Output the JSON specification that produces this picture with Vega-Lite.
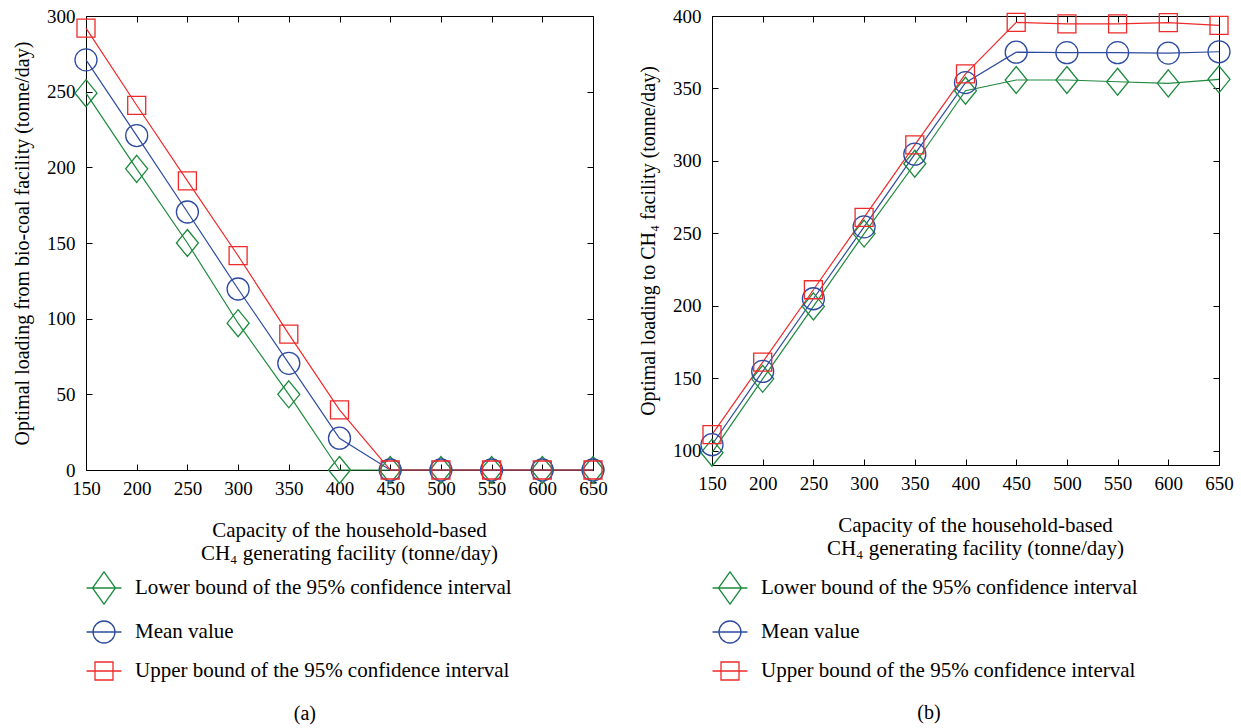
{
  "$schema": "https://vega.github.io/schema/vega-lite/v6.json",
  "background": "white",
  "padding": {"left": 12, "top": 6, "right": 0, "bottom": 0},
  "spacing": 30,
  "resolve": {"scale": {"color": "independent", "shape": "independent"}, "legend": {"color": "independent", "shape": "independent"}},
  "config": {
    "font": "Liberation Serif",
    "view": {"stroke": "black", "strokeWidth": 1},
    "axis": {
      "labelFont": "Liberation Serif", "labelFontSize": 19, "labelColor": "black",
      "titleFont": "Liberation Serif", "titleFontSize": 20, "titleFontWeight": "normal", "titleColor": "black",
      "domainColor": "black", "tickColor": "black", "tickSize": -6, "grid": false,
      "labelFlush": false, "labelOverlap": false
    },
    "legend": {
      "labelFont": "Liberation Serif", "labelFontSize": 21, "labelColor": "black", "labelLimit": 600,
      "padding": 0, "symbolStrokeWidth": 1.3, "symbolSize": 1296, "labelOffset": 12, "rowPadding": 6
    },
    "title": {"font": "Liberation Serif", "fontSize": 20, "fontWeight": "normal", "color": "black"}
  },
  "datasets": {
    "a": [
      {"cap": 150, "series": "Lower bound of the 95% confidence interval", "val": 249},
      {"cap": 200, "series": "Lower bound of the 95% confidence interval", "val": 199},
      {"cap": 250, "series": "Lower bound of the 95% confidence interval", "val": 150},
      {"cap": 300, "series": "Lower bound of the 95% confidence interval", "val": 97},
      {"cap": 350, "series": "Lower bound of the 95% confidence interval", "val": 50},
      {"cap": 400, "series": "Lower bound of the 95% confidence interval", "val": 0},
      {"cap": 450, "series": "Lower bound of the 95% confidence interval", "val": 0},
      {"cap": 500, "series": "Lower bound of the 95% confidence interval", "val": 0},
      {"cap": 550, "series": "Lower bound of the 95% confidence interval", "val": 0},
      {"cap": 600, "series": "Lower bound of the 95% confidence interval", "val": 0},
      {"cap": 650, "series": "Lower bound of the 95% confidence interval", "val": 0},
      {"cap": 150, "series": "Mean value", "val": 271},
      {"cap": 200, "series": "Mean value", "val": 221},
      {"cap": 250, "series": "Mean value", "val": 170.5},
      {"cap": 300, "series": "Mean value", "val": 119.6},
      {"cap": 350, "series": "Mean value", "val": 70.5},
      {"cap": 400, "series": "Mean value", "val": 21},
      {"cap": 450, "series": "Mean value", "val": 0},
      {"cap": 500, "series": "Mean value", "val": 0},
      {"cap": 550, "series": "Mean value", "val": 0},
      {"cap": 600, "series": "Mean value", "val": 0},
      {"cap": 650, "series": "Mean value", "val": 0},
      {"cap": 150, "series": "Upper bound of the 95% confidence interval", "val": 292},
      {"cap": 200, "series": "Upper bound of the 95% confidence interval", "val": 241},
      {"cap": 250, "series": "Upper bound of the 95% confidence interval", "val": 191},
      {"cap": 300, "series": "Upper bound of the 95% confidence interval", "val": 141.6},
      {"cap": 350, "series": "Upper bound of the 95% confidence interval", "val": 89.8},
      {"cap": 400, "series": "Upper bound of the 95% confidence interval", "val": 39.7},
      {"cap": 450, "series": "Upper bound of the 95% confidence interval", "val": 0},
      {"cap": 500, "series": "Upper bound of the 95% confidence interval", "val": 0},
      {"cap": 550, "series": "Upper bound of the 95% confidence interval", "val": 0},
      {"cap": 600, "series": "Upper bound of the 95% confidence interval", "val": 0},
      {"cap": 650, "series": "Upper bound of the 95% confidence interval", "val": 0}
    ],
    "b": [
      {"cap": 150, "series": "Lower bound of the 95% confidence interval", "val": 98.5},
      {"cap": 200, "series": "Lower bound of the 95% confidence interval", "val": 149.5},
      {"cap": 250, "series": "Lower bound of the 95% confidence interval", "val": 199.5},
      {"cap": 300, "series": "Lower bound of the 95% confidence interval", "val": 249.8},
      {"cap": 350, "series": "Lower bound of the 95% confidence interval", "val": 298},
      {"cap": 400, "series": "Lower bound of the 95% confidence interval", "val": 348.4},
      {"cap": 450, "series": "Lower bound of the 95% confidence interval", "val": 355.8},
      {"cap": 500, "series": "Lower bound of the 95% confidence interval", "val": 355.8},
      {"cap": 550, "series": "Lower bound of the 95% confidence interval", "val": 354.6},
      {"cap": 600, "series": "Lower bound of the 95% confidence interval", "val": 353.5},
      {"cap": 650, "series": "Lower bound of the 95% confidence interval", "val": 356.3},
      {"cap": 150, "series": "Mean value", "val": 104},
      {"cap": 200, "series": "Mean value", "val": 154.6},
      {"cap": 250, "series": "Mean value", "val": 204.8},
      {"cap": 300, "series": "Mean value", "val": 254.4},
      {"cap": 350, "series": "Mean value", "val": 304.6},
      {"cap": 400, "series": "Mean value", "val": 354},
      {"cap": 450, "series": "Mean value", "val": 375},
      {"cap": 500, "series": "Mean value", "val": 374.7},
      {"cap": 550, "series": "Mean value", "val": 374.7},
      {"cap": 600, "series": "Mean value", "val": 374.4},
      {"cap": 650, "series": "Mean value", "val": 375.3},
      {"cap": 150, "series": "Upper bound of the 95% confidence interval", "val": 111},
      {"cap": 200, "series": "Upper bound of the 95% confidence interval", "val": 161},
      {"cap": 250, "series": "Upper bound of the 95% confidence interval", "val": 211},
      {"cap": 300, "series": "Upper bound of the 95% confidence interval", "val": 261},
      {"cap": 350, "series": "Upper bound of the 95% confidence interval", "val": 311},
      {"cap": 400, "series": "Upper bound of the 95% confidence interval", "val": 360},
      {"cap": 450, "series": "Upper bound of the 95% confidence interval", "val": 395.6},
      {"cap": 500, "series": "Upper bound of the 95% confidence interval", "val": 394.5},
      {"cap": 550, "series": "Upper bound of the 95% confidence interval", "val": 394.5},
      {"cap": 600, "series": "Upper bound of the 95% confidence interval", "val": 395.4},
      {"cap": 650, "series": "Upper bound of the 95% confidence interval", "val": 393.5}
    ]
  },
  "hconcat": [
    {
      "width": 507, "height": 454,
      "data": {"name": "a"},
      "title": {"text": "(a)", "orient": "bottom", "anchor": "middle", "frame": "bounds", "offset": 21, "dx": -5},
      "resolve": {"axis": {"x": "independent", "y": "independent"}},
      "layer": [
        {
          "transform": [{"filter": "datum.series === 'Lower bound of the 95% confidence interval'"}],
          "mark": {"type": "line", "strokeWidth": 1.2, "clip": false, "color": "#1e8a3e"},
          "encoding": {
            "x": {"field": "cap", "type": "quantitative", "scale": {"domain": [150, 650], "nice": false, "zero": false},
              "axis": {"values": [150,200,250,300,350,400,450,500,550,600,650], "labelPadding": 15, "titlePadding": 21, "titleLineHeight": 23, "titleX": 263, "titleFontSize": 21,
                "title": ["Capacity of the household-based", "CH₄ generating facility (tonne/day)"]}},
            "y": {"field": "val", "type": "quantitative", "scale": {"domain": [0, 300], "nice": false, "zero": false},
              "axis": {"values": [0,50,100,150,200,250,300], "labelPadding": 17, "titlePadding": 14,
                "title": "Optimal loading from bio-coal facility (tonne/day)"}}
          }
        },
        {
          "transform": [{"filter": "datum.series === 'Mean value'"}],
          "mark": {"type": "line", "strokeWidth": 1.2, "clip": false, "color": "#2d4b9f"},
          "encoding": {
            "x": {"field": "cap", "type": "quantitative", "axis": null},
            "y": {"field": "val", "type": "quantitative", "axis": null}
          }
        },
        {
          "transform": [{"filter": "datum.series === 'Upper bound of the 95% confidence interval'"}],
          "mark": {"type": "line", "strokeWidth": 1.2, "clip": false, "color": "#ee2a2a"},
          "encoding": {
            "x": {"field": "cap", "type": "quantitative", "axis": null},
            "y": {"field": "val", "type": "quantitative", "axis": null}
          }
        },
        {
          "transform": [{"filter": "datum.series === 'Lower bound of the 95% confidence interval'"}],
          "mark": {"type": "point", "filled": false, "shape": "M0,-1L0.815,0L0,1L-0.815,0Z", "size": 729, "strokeWidth": 1.3, "color": "#1e8a3e", "opacity": 1},
          "encoding": {
            "x": {"field": "cap", "type": "quantitative", "axis": {"orient": "top", "labels": false, "domain": false, "title": null, "values": [150,200,250,300,350,400,450,500,550,600,650]}},
            "y": {"field": "val", "type": "quantitative", "axis": {"orient": "right", "labels": false, "domain": false, "title": null, "values": [0,50,100,150,200,250,300]}}
          }
        },
        {
          "transform": [{"filter": "datum.series === 'Mean value'"}],
          "mark": {"type": "point", "filled": false, "shape": "circle", "size": 484, "strokeWidth": 1.3, "color": "#2d4b9f", "opacity": 1},
          "encoding": {
            "x": {"field": "cap", "type": "quantitative", "axis": null},
            "y": {"field": "val", "type": "quantitative", "axis": null}
          }
        },
        {
          "transform": [{"filter": "datum.series === 'Upper bound of the 95% confidence interval'"}],
          "mark": {"type": "point", "filled": false, "shape": "square", "size": 324, "strokeWidth": 1.3, "color": "#ee2a2a", "opacity": 1},
          "encoding": {
            "x": {"field": "cap", "type": "quantitative", "axis": null},
            "y": {"field": "val", "type": "quantitative", "axis": null}
          }
        },
        {
          "mark": {"type": "point", "filled": false, "opacity": 0, "strokeWidth": 1.3},
          "encoding": {
            "x": {"field": "cap", "type": "quantitative", "axis": null},
            "y": {"field": "val", "type": "quantitative", "axis": null},
            "color": {"field": "series", "type": "nominal",
              "scale": {"domain": ["Lower bound of the 95% confidence interval", "Mean value", "Upper bound of the 95% confidence interval"], "range": ["#1e8a3e", "#2d4b9f", "#ee2a2a"]},
              "legend": {"title": null, "orient": "none", "legendX": -1, "legendY": 553, "direction": "vertical"}},
            "shape": {"field": "series", "type": "nominal",
              "scale": {"domain": ["Lower bound of the 95% confidence interval", "Mean value", "Upper bound of the 95% confidence interval"],
                "range": ["M-0.97,0H0.97M0,-0.89L0.64,0L0,0.89L-0.64,0Z", "M-0.97,0H0.97M-0.61,0A0.61,0.61,0,1,0,0.61,0A0.61,0.61,0,1,0,-0.61,0Z", "M-0.97,0H0.97M-0.5,-0.5H0.5V0.5H-0.5Z"]},
              "legend": {"title": null, "orient": "none", "legendX": -1, "legendY": 553, "direction": "vertical"}}
          }
        }
      ]
    },
    {
      "width": 507, "height": 449,
      "data": {"name": "b"},
      "title": {"text": "(b)", "orient": "bottom", "anchor": "middle", "frame": "bounds", "offset": 20, "dx": -7},
      "resolve": {"axis": {"x": "independent", "y": "independent"}},
      "layer": [
        {
          "transform": [{"filter": "datum.series === 'Lower bound of the 95% confidence interval'"}],
          "mark": {"type": "line", "strokeWidth": 1.2, "clip": false, "color": "#1e8a3e"},
          "encoding": {
            "x": {"field": "cap", "type": "quantitative", "scale": {"domain": [150, 650], "nice": false, "zero": false},
              "axis": {"values": [150,200,250,300,350,400,450,500,550,600,650], "labelPadding": 15, "titlePadding": 21, "titleLineHeight": 23, "titleX": 263, "titleFontSize": 21,
                "title": ["Capacity of the household-based", "CH₄ generating facility (tonne/day)"]}},
            "y": {"field": "val", "type": "quantitative", "scale": {"domain": [90, 400], "nice": false, "zero": false},
              "axis": {"values": [100,150,200,250,300,350,400], "labelPadding": 17, "titlePadding": 14,
                "title": "Optimal loading to CH₄ facility (tonne/day)"}}
          }
        },
        {
          "transform": [{"filter": "datum.series === 'Mean value'"}],
          "mark": {"type": "line", "strokeWidth": 1.2, "clip": false, "color": "#2d4b9f"},
          "encoding": {
            "x": {"field": "cap", "type": "quantitative", "axis": null},
            "y": {"field": "val", "type": "quantitative", "axis": null}
          }
        },
        {
          "transform": [{"filter": "datum.series === 'Upper bound of the 95% confidence interval'"}],
          "mark": {"type": "line", "strokeWidth": 1.2, "clip": false, "color": "#ee2a2a"},
          "encoding": {
            "x": {"field": "cap", "type": "quantitative", "axis": null},
            "y": {"field": "val", "type": "quantitative", "axis": null}
          }
        },
        {
          "transform": [{"filter": "datum.series === 'Lower bound of the 95% confidence interval'"}],
          "mark": {"type": "point", "filled": false, "shape": "M0,-1L0.815,0L0,1L-0.815,0Z", "size": 729, "strokeWidth": 1.3, "color": "#1e8a3e", "opacity": 1},
          "encoding": {
            "x": {"field": "cap", "type": "quantitative", "axis": {"orient": "top", "labels": false, "domain": false, "title": null, "values": [150,200,250,300,350,400,450,500,550,600,650]}},
            "y": {"field": "val", "type": "quantitative", "axis": {"orient": "right", "labels": false, "domain": false, "title": null, "values": [100,150,200,250,300,350,400]}}
          }
        },
        {
          "transform": [{"filter": "datum.series === 'Mean value'"}],
          "mark": {"type": "point", "filled": false, "shape": "circle", "size": 484, "strokeWidth": 1.3, "color": "#2d4b9f", "opacity": 1},
          "encoding": {
            "x": {"field": "cap", "type": "quantitative", "axis": null},
            "y": {"field": "val", "type": "quantitative", "axis": null}
          }
        },
        {
          "transform": [{"filter": "datum.series === 'Upper bound of the 95% confidence interval'"}],
          "mark": {"type": "point", "filled": false, "shape": "square", "size": 324, "strokeWidth": 1.3, "color": "#ee2a2a", "opacity": 1},
          "encoding": {
            "x": {"field": "cap", "type": "quantitative", "axis": null},
            "y": {"field": "val", "type": "quantitative", "axis": null}
          }
        },
        {
          "mark": {"type": "point", "filled": false, "opacity": 0, "strokeWidth": 1.3},
          "encoding": {
            "x": {"field": "cap", "type": "quantitative", "axis": null},
            "y": {"field": "val", "type": "quantitative", "axis": null},
            "color": {"field": "series", "type": "nominal",
              "scale": {"domain": ["Lower bound of the 95% confidence interval", "Mean value", "Upper bound of the 95% confidence interval"], "range": ["#1e8a3e", "#2d4b9f", "#ee2a2a"]},
              "legend": {"title": null, "orient": "none", "legendX": -1, "legendY": 553, "direction": "vertical"}},
            "shape": {"field": "series", "type": "nominal",
              "scale": {"domain": ["Lower bound of the 95% confidence interval", "Mean value", "Upper bound of the 95% confidence interval"],
                "range": ["M-0.97,0H0.97M0,-0.89L0.64,0L0,0.89L-0.64,0Z", "M-0.97,0H0.97M-0.61,0A0.61,0.61,0,1,0,0.61,0A0.61,0.61,0,1,0,-0.61,0Z", "M-0.97,0H0.97M-0.5,-0.5H0.5V0.5H-0.5Z"]},
              "legend": {"title": null, "orient": "none", "legendX": -1, "legendY": 553, "direction": "vertical"}}
          }
        }
      ]
    }
  ]
}
